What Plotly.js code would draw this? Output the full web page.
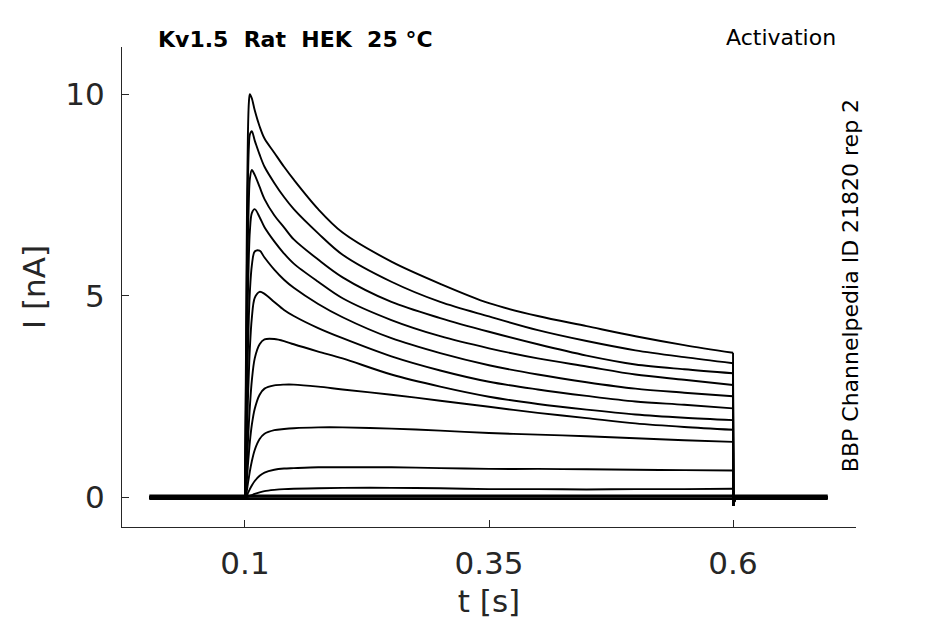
<!DOCTYPE html>
<html>
<head>
<meta charset="utf-8">
<script src="https://cdn.plot.ly/plotly-3.0.1.min.js"></script>
<style>
  body { margin: 0; background: #fff; }
  #plot { width: 945px; height: 624px; }
</style>
</head>
<body>
<div id="plot"></div>
<script>
// time samples during the step (s)
var tPulse = [0.1, 0.101, 0.102, 0.103, 0.104, 0.105, 0.107, 0.11, 0.115, 0.12, 0.13, 0.14, 0.15, 0.175, 0.2, 0.25, 0.3, 0.35, 0.4, 0.45, 0.5, 0.55, 0.6];
var tBefore = [0.002, 0.0999];
var tAfter = [0.6004, 0.602, 0.697];
var afterVals = [-0.2, 0, 0];

// current traces, nA (largest step first)
var i1  = [0, 3.5, 7.0, 9.0, 9.8, 10.0, 9.9, 9.6, 9.2, 8.9, 8.55, 8.2, 7.88, 7.15, 6.57, 5.85, 5.3, 4.82, 4.5, 4.25, 4.0, 3.78, 3.59];
var i2  = [0, 2.8, 5.8, 7.8, 8.7, 9.0, 9.08, 8.85, 8.5, 8.2, 7.8, 7.45, 7.15, 6.55, 6.02, 5.35, 4.85, 4.49, 4.15, 3.88, 3.65, 3.48, 3.33];
var i3  = [0, 2.2, 4.6, 6.4, 7.4, 7.9, 8.12, 8.0, 7.7, 7.4, 7.0, 6.7, 6.4, 5.9, 5.46, 4.85, 4.45, 4.11, 3.8, 3.52, 3.3, 3.18, 3.08];
var i4  = [0, 1.6, 3.5, 5.0, 6.0, 6.6, 7.05, 7.15, 6.95, 6.7, 6.35, 6.05, 5.8, 5.35, 4.94, 4.4, 4.0, 3.7, 3.45, 3.25, 3.05, 2.92, 2.79];
var i5  = [0, 1.0, 2.4, 3.6, 4.5, 5.1, 5.75, 6.1, 6.12, 5.95, 5.65, 5.4, 5.2, 4.8, 4.47, 3.95, 3.58, 3.28, 3.05, 2.86, 2.7, 2.6, 2.51];
var i6  = [0, 0.6, 1.5, 2.4, 3.1, 3.7, 4.45, 4.95, 5.1, 5.05, 4.85, 4.65, 4.5, 4.2, 3.95, 3.5, 3.15, 2.87, 2.68, 2.52, 2.38, 2.3, 2.21];
var i7  = [0, 0.3, 0.8, 1.35, 1.85, 2.25, 2.9, 3.45, 3.8, 3.92, 3.93, 3.88, 3.8, 3.62, 3.45, 3.05, 2.75, 2.5, 2.32, 2.18, 2.06, 1.98, 1.92];
var i8  = [0, 0.15, 0.45, 0.8, 1.1, 1.38, 1.8, 2.2, 2.55, 2.7, 2.78, 2.8, 2.8, 2.75, 2.68, 2.55, 2.4, 2.25, 2.1, 1.97, 1.84, 1.75, 1.68];
var i9  = [0, 0.05, 0.18, 0.35, 0.5, 0.65, 0.9, 1.18, 1.45, 1.58, 1.67, 1.7, 1.72, 1.74, 1.74, 1.71, 1.66, 1.6, 1.56, 1.52, 1.47, 1.42, 1.38];
var i10 = [0, 0.02, 0.06, 0.11, 0.16, 0.21, 0.3, 0.41, 0.54, 0.62, 0.69, 0.72, 0.73, 0.75, 0.75, 0.75, 0.73, 0.71, 0.71, 0.7, 0.69, 0.68, 0.67];
var i11 = [0, 0, 0.01, 0.02, 0.03, 0.04, 0.06, 0.09, 0.13, 0.16, 0.19, 0.21, 0.22, 0.23, 0.24, 0.24, 0.23, 0.21, 0.21, 0.2, 0.21, 0.21, 0.22];
// steps that give no current
var flatLevels = [0.05, 0.02, -0.02, -0.04];

var xTicks = [0.1, 0.35, 0.6];
var xTickText = ['0.1', '0.35', '0.6'];
var yTicks = [0, 5, 10];

var traces = [];
var allSweeps = [i1, i2, i3, i4, i5, i6, i7, i8, i9, i10, i11];

for (var s = 0; s < allSweeps.length; s++)
{
	// flat holding part
	traces.push({
		x: tBefore,
		y: [0, 0],
		type: 'scatter',
		mode: 'lines',
		line: {color: '#000000', width: 1.9},
		hoverinfo: 'skip'
	});
	// the step itself, smoothed
	traces.push({
		x: tPulse,
		y: allSweeps[s],
		type: 'scatter',
		mode: 'lines',
		line: {color: '#000000', width: 1.9, shape: 'spline', smoothing: 0.9},
		hoverinfo: 'skip'
	});
	// back to holding
	traces.push({
		x: [0.0999, 0.1].concat([]),
		y: [0, 0],
		type: 'scatter',
		mode: 'lines',
		line: {color: '#000000', width: 1.9},
		hoverinfo: 'skip'
	});
	traces.push({
		x: [tPulse[tPulse.length - 1]].concat(tAfter),
		y: [allSweeps[s][allSweeps[s].length - 1]].concat(afterVals),
		type: 'scatter',
		mode: 'lines',
		line: {color: '#000000', width: 1.9},
		hoverinfo: 'skip'
	});
}

for (var f = 0; f < flatLevels.length; f++)
{
	var ys = [];
	var xs = tBefore.concat(tPulse, tAfter);
	for (var k = 0; k < xs.length; k++) ys.push(flatLevels[f]);
	traces.push({
		x: xs,
		y: ys,
		type: 'scatter',
		mode: 'lines',
		line: {color: '#000000', width: 1.9},
		hoverinfo: 'skip'
	});
}

var txt = '#262626';
var layout = {
	width: 945,
	height: 624,
	margin: {l: 122, r: 89, t: 47, b: 97},
	paper_bgcolor: '#ffffff',
	plot_bgcolor: '#ffffff',
	showlegend: false,
	font: {family: 'DejaVu Sans', color: txt},
	xaxis: {
		range: [-0.026, 0.726],
		tickvals: xTicks,
		ticktext: xTickText,
		ticks: 'inside',
		ticklen: 7,
		tickcolor: txt,
		showline: true,
		linecolor: txt,
		linewidth: 1,
		showgrid: false,
		zeroline: false,
		tickfont: {size: 31, color: txt},
		ticklabelstandoff: 9,
		title: {text: 't [s]', font: {size: 31, color: txt}, standoff: 10}
	},
	yaxis: {
		range: [-0.73, 11.17],
		tickvals: yTicks,
		ticks: 'inside',
		ticklen: 7,
		tickcolor: txt,
		showline: true,
		linecolor: txt,
		linewidth: 1,
		showgrid: false,
		zeroline: false,
		tickfont: {size: 31, color: txt},
		ticklabelstandoff: 10,
		title: {text: 'I [nA]', font: {size: 31, color: txt}, standoff: 10}
	},
	annotations: [
		{
			text: '<b>Kv1.5\u00a0\u00a0Rat\u00a0\u00a0HEK\u00a0\u00a025\u00a0°C</b>',
			xref: 'paper', yref: 'paper', x: 0.047, y: 1.015,
			xanchor: 'left', yanchor: 'middle', showarrow: false,
			font: {size: 22, color: '#000000'}
		},
		{
			text: 'Activation',
			xref: 'paper', yref: 'paper', x: 0.9755, y: 1.019,
			xanchor: 'right', yanchor: 'middle', showarrow: false,
			font: {size: 22, color: '#000000'}
		},
		{
			text: 'BBP Channelpedia ID 21820 rep 2',
			xref: 'paper', yref: 'paper', x: 0.992, y: 0.502,
			xanchor: 'center', yanchor: 'middle', showarrow: false,
			textangle: -90,
			font: {size: 22, color: '#000000'}
		}
	]
};

Plotly.newPlot('plot', traces, layout, {displayModeBar: false, staticPlot: true});
</script>
</body>
</html>
